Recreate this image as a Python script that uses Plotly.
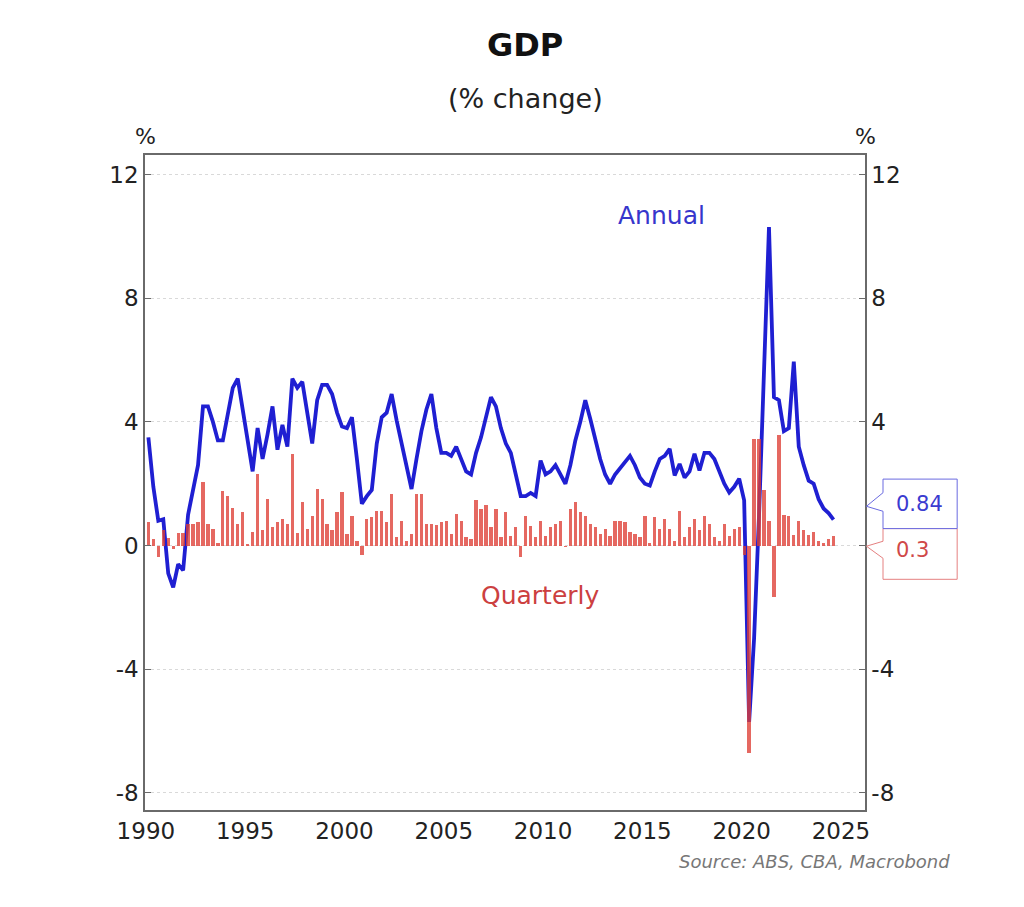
import plotly.graph_objects as go

# ---------------- data (1990Q1 .. 2024Q3) ----------------
start_year = 1990
annual_pct = [
    3.5, 1.9, 0.8, 0.85, -0.9, -1.35, -0.6, -0.8, 1.0, 1.8,
    2.6, 4.5, 4.5, 4.0, 3.4, 3.4, 4.3, 5.1, 5.4, 4.4,
    3.3, 2.4, 3.8, 2.8, 3.6, 4.5, 3.1, 3.9, 3.2, 5.4,
    5.1, 5.3, 4.3, 3.3, 4.7, 5.2, 5.2, 4.9, 4.3, 3.85,
    3.8, 4.15, 2.8, 1.35, 1.6, 1.8, 3.3, 4.15, 4.3, 4.9,
    4.05, 3.3, 2.5, 1.83, 2.8, 3.7, 4.4, 4.9, 3.8, 3.0,
    3.0, 2.9, 3.2, 2.8, 2.4, 2.3, 3.0, 3.5, 4.2, 4.8,
    4.5, 3.8, 3.3, 3.0, 2.3, 1.6, 1.6, 1.7, 1.6, 2.75,
    2.3, 2.4, 2.6, 2.3, 2.0, 2.6, 3.4, 4.0, 4.7, 4.1,
    3.4, 2.8, 2.3, 2.0, 2.3, 2.5, 2.7, 2.9, 2.6, 2.2,
    2.0, 1.94, 2.4, 2.8, 2.9, 3.13, 2.27, 2.64, 2.2, 2.4,
    2.97, 2.43, 3.0, 3.0, 2.8, 2.4, 2.0, 1.72, 1.9, 2.16,
    1.46, -5.7, -3.0, 1.0, 5.5, 10.3, 4.8, 4.7, 3.7, 3.8,
    5.95, 3.2, 2.6, 2.1, 2.0, 1.5, 1.2, 1.05, 0.84,
]
quarterly_pct = [
    0.75, 0.2, -0.38, 0.5, 0.25, -0.1, 0.4, 0.4, 0.7, 0.7,
    0.75, 2.05, 0.7, 0.55, 0.1, 1.78, 1.6, 1.2, 0.7, 1.08,
    0.05, 0.43, 2.3, 0.5, 1.5, 0.6, 0.75, 0.86, 0.7, 2.97,
    0.4, 1.4, 0.55, 0.97, 1.83, 1.5, 0.7, 0.5, 1.08, 1.73,
    0.38, 0.97, 0.16, -0.32, 0.86, 0.92, 1.13, 1.13, 0.75, 1.67,
    0.27, 0.81, 0.16, 0.38, 1.67, 1.67, 0.7, 0.7, 0.65, 0.75,
    0.81, 0.38, 1.02, 0.81, 0.27, 0.22, 1.48, 1.19, 1.3, 0.6,
    1.19, 0.27, 1.08, 0.32, 0.6, -0.38, 0.97, 0.62, 0.27, 0.81,
    0.32, 0.6, 0.7, 0.81, -0.05, 1.19, 1.4, 1.08, 0.97, 0.7,
    0.6, 0.38, 0.54, 0.32, 0.81, 0.81, 0.75, 0.43, 0.38, 0.27,
    0.97, 0.1, 0.92, 0.54, 0.86, 0.54, 0.16, 1.13, 0.27, 0.6,
    0.86, 0.5, 0.97, 0.7, 0.27, 0.16, 0.7, 0.32, 0.54, 0.6,
    -0.3, -6.7, 3.45, 3.45, 1.8, 0.8, -1.67, 3.56, 1.0, 0.95,
    0.35, 0.8, 0.5, 0.35, 0.45, 0.15, 0.1, 0.2, 0.3,
]
year_ticks = [1990, 1995, 2000, 2005, 2010, 2015, 2020, 2025]
y_ticks = [-8, -4, 0, 4, 8, 12]

# mid-quarter decimal dates
dates = [start_year + 0.125 + 0.25 * i for i in range(len(annual_pct))]

FONT = "DejaVu Sans"
BLUE = "#1F1FD2"
RED = "rgba(222,62,52,0.78)"
AXC = "#6a6a6a"

fig = go.Figure()
fig.add_trace(go.Scatter(x=dates, y=annual_pct, mode="lines",
                         line=dict(color=BLUE, width=3.8), yaxis="y",
                         hoverinfo="skip", showlegend=False))
fig.add_trace(go.Bar(x=dates, y=quarterly_pct, width=0.165,
                     marker=dict(color=RED, line=dict(width=0)), yaxis="y2",
                     hoverinfo="skip", showlegend=False))

yr = [-8.55, 12.63]
tickfont = dict(family=FONT, size=23, color="#222222")
# the right-hand "0" label sits under the value callouts in the original
right_ticktext = ["" if v == 0 else str(v) for v in y_ticks]
fig.update_layout(
    width=1016, height=899, autosize=False,
    margin=dict(l=137, r=159, t=147, b=97),
    paper_bgcolor="white", plot_bgcolor="white",
    bargap=0,
    xaxis=dict(range=[1989.955, 2026.21], tickvals=year_ticks,
               ticktext=[str(y) for y in year_ticks], showgrid=False,
               zeroline=False, showline=True, linecolor=AXC, linewidth=1.5,
               mirror=True, ticks="", tickfont=tickfont),
    yaxis=dict(range=yr, tickvals=y_ticks, ticktext=[str(v) for v in y_ticks],
               showgrid=True, gridcolor="#d9d9d9", griddash="dot", gridwidth=1,
               zeroline=False, showline=True, linecolor=AXC, linewidth=1.5,
               ticks="inside", ticklen=6, tickcolor=AXC, tickfont=tickfont),
    yaxis2=dict(range=yr, tickvals=y_ticks, ticktext=right_ticktext,
                overlaying="y", side="right", showgrid=False, zeroline=False,
                showline=True, linecolor=AXC, linewidth=1.5,
                ticks="inside", ticklen=6, tickcolor=AXC, tickfont=tickfont),
)

ann = []
ann.append(dict(text="<b>GDP</b>", x=0.528, y=1.168, xref="paper", yref="paper",
                showarrow=False, font=dict(family=FONT, size=32, color="#111111"),
                xanchor="center", yanchor="middle"))
ann.append(dict(text="(% change)", x=0.528, y=1.087, xref="paper", yref="paper",
                showarrow=False, font=dict(family=FONT, size=27, color="#222222"),
                xanchor="center", yanchor="middle"))
for xp in (0, 1):
    ann.append(dict(text="%", x=xp, y=1.029, xref="paper", yref="paper",
                    showarrow=False, font=dict(family=FONT, size=22, color="#222222"),
                    xanchor="center", yanchor="middle"))
ann.append(dict(text="Annual", x=0.718, y=0.908, xref="paper", yref="paper",
                showarrow=False, font=dict(family=FONT, size=25, color="#3636CC"),
                xanchor="center", yanchor="middle"))
ann.append(dict(text="Quarterly", x=0.549, y=0.327, xref="paper", yref="paper",
                showarrow=False, font=dict(family=FONT, size=25, color="#CC4040"),
                xanchor="center", yanchor="middle"))
ann.append(dict(text="<i>Source: ABS, CBA, Macrobond</i>", x=1.121, y=-0.079,
                xref="paper", yref="paper", showarrow=False,
                font=dict(family=FONT, size=18, color="#777777"),
                xanchor="right", yanchor="middle"))

# callout labels for the latest values
last_a = annual_pct[-1]
last_q = quarterly_pct[-1]
ann.append(dict(text=f"{last_a:.2f}", x=1.04, y=last_a + 0.52, xref="paper", yref="y",
                showarrow=False, font=dict(family=FONT, size=21, color="#3B3BD0"),
                xanchor="left", yanchor="middle"))
ann.append(dict(text=f"{last_q:.1f}", x=1.04, y=last_q - 0.45, xref="paper", yref="y",
                showarrow=False, font=dict(family=FONT, size=21, color="#D04848"),
                xanchor="left", yanchor="middle"))
fig.update_layout(annotations=ann)

bx0, bx1 = 1.025, 1.128
tip_a = last_a + 0.43
tip_q = last_q - 0.32
mid = 0.55
blue_path = (f"M {bx0},2.15 L {bx1},2.15 L {bx1},{mid} L {bx0},{mid} "
             f"L {bx0},{tip_a-0.16} L 1.002,{tip_a} L {bx0},{tip_a+0.44} Z")
red_path = (f"M {bx0},{mid} L {bx1},{mid} L {bx1},-1.09 L {bx0},-1.09 "
            f"L {bx0},{tip_q-0.39} L 1.002,{tip_q} L {bx0},{tip_q+0.16} Z")
fig.update_layout(shapes=[
    dict(type="path", path=red_path, xref="paper", yref="y",
         line=dict(color="#E58080", width=1), fillcolor="white", layer="above"),
    dict(type="path", path=blue_path, xref="paper", yref="y",
         line=dict(color="#6A6AE0", width=1), fillcolor="white", layer="above"),
])

fig.write_html("out.html")
